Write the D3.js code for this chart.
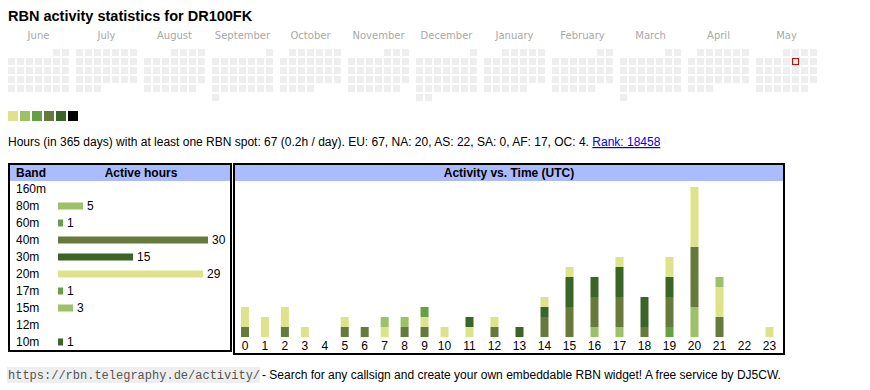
<!DOCTYPE html>
<html>
<head>
<meta charset="utf-8">
<script src="https://cdn.jsdelivr.net/npm/d3@7"></script>
<style>
  body { margin: 0; background: #fff; }
  svg { display: block; }
</style>
</head>
<body>
<div id="chart"></div>
<script>
// data
var callsign = "DR100FK";
var monthNames = ["June", "July", "August", "September", "October", "November",
                  "December", "January", "February", "March", "April", "May"];
var calStart = "2024-06-01", calEnd = "2025-06-01";
var today = "2025-05-09";
var legendColors = ["#dce38b", "#9dc166", "#66a044", "#667b3b", "#3b6527", "#000000"];

var bands      = ["160m", "80m", "60m", "40m", "30m", "20m", "17m", "15m", "12m", "10m"];
var bandHours  = [0, 5, 1, 30, 15, 29, 1, 3, 0, 1];
var bandColors = ["#000000", "#9dc166", "#66a044", "#667b3b", "#3b6527", "#dce38b", "#66a044", "#9dc166", "#dce38b", "#3b6527"];

var hours = d3.range(24);
// hours with a spot per band, per UTC hour 0..23
var act160 = [0,0,0,0,0,0,0,0,0,0,0,0,0,0,0,0,0,0,0,0,0,0,0,0];
var act80  = [0,0,0,0,0,0,0,0,0,0,0,0,0,0,0,0,1,1,0,0,3,0,0,0];
var act60  = [0,0,0,0,0,0,0,0,0,0,0,0,0,0,0,0,0,0,0,1,0,0,0,0];
var act40  = [1,0,1,0,0,1,1,0,1,1,0,0,1,0,2,3,3,3,1,3,6,2,0,0];
var act30  = [0,0,0,0,0,0,0,0,0,0,0,0,0,1,1,3,2,3,3,2,0,0,0,0];
var act20  = [2,2,2,1,0,1,0,1,0,1,1,1,1,0,1,1,0,1,0,2,6,3,0,1];
var act17  = [0,0,0,0,0,0,0,0,0,1,0,0,0,0,0,0,0,0,0,0,0,0,0,0];
var act15  = [0,0,0,0,0,0,0,1,1,0,0,0,0,0,0,0,0,0,0,0,0,1,0,0];
var act12  = [0,0,0,0,0,0,0,0,0,0,0,0,0,0,0,0,0,0,0,0,0,0,0,0];
var act10  = [0,0,0,0,0,0,0,0,0,0,0,1,0,0,0,0,0,0,0,0,0,0,0,0];

var summary = "Hours (in 365 days) with at least one RBN spot: 67 (0.2h / day). EU: 67, NA: 20, AS: 22, SA: 0, AF: 17, OC: 4. ";
var rankText = "Rank: 18458";

var width = 870, height = 390;
var sans = "'Liberation Sans', Arial, sans-serif";

var svg = d3.select("#chart")
  .append("svg")
    .attr("width", width)
    .attr("height", height)
    .style("font-family", sans);

svg.append("rect").attr("width", width).attr("height", height).attr("fill", "#fff");

// title
svg.append("text")
  .attr("x", 8).attr("y", 21)
  .style("font-size", "14.5px")
  .style("font-weight", "bold")
  .text("RBN activity statistics for " + callsign);

// ---- calendar ----
var parse = d3.timeParse("%Y-%m-%d");
var start = parse(calStart);
var days = d3.timeDay.range(start, parse(calEnd));
var monthStep = 68, cell = 7, cellStep = 9, calX = 8, calY = 49;

var monthX = d3.scaleLinear().domain([0, 1]).range([calX, calX + monthStep]);
var weekday = function(d) { return (d.getDay() + 6) % 7; };
var monthIdx = function(d) { return d3.timeMonth.count(start, d); };
var weekRow = function(d) {
  var first = d3.timeMonth.floor(d);
  return Math.floor((d.getDate() - 1 + weekday(first)) / 7);
};

svg.append("g")
  .selectAll("text")
  .data(monthNames)
  .join("text")
    .attr("x", function(d, i) { return monthX(i) + (7 * cellStep - 2) / 2; })
    .attr("y", 39)
    .attr("text-anchor", "middle")
    .style("font-family", "'DejaVu Sans', Verdana, sans-serif")
    .style("font-size", "10px")
    .attr("fill", "#a8a8a8")
    .text(function(d) { return d; });

var fmt = d3.timeFormat("%Y-%m-%d");
var cal = svg.append("g");
cal.selectAll("rect")
  .data(days)
  .join("rect")
    .attr("x", function(d) { return monthX(monthIdx(d)) + weekday(d) * cellStep; })
    .attr("y", function(d) { return calY + weekRow(d) * cellStep; })
    .attr("width", cell)
    .attr("height", cell)
    .attr("fill", "#eeeeee");

// today marker, stroke kept inside the cell
cal.selectAll("rect")
  .filter(function(d) { return fmt(d) == today; })
    .attr("x", function(d) { return monthX(monthIdx(d)) + weekday(d) * cellStep + 0.5; })
    .attr("y", function(d) { return calY + weekRow(d) * cellStep + 0.5; })
    .attr("width", cell - 1).attr("height", cell - 1)
    .attr("stroke", "#e00000");

// legend
svg.append("g")
  .selectAll("rect")
  .data(legendColors)
  .join("rect")
    .attr("x", function(d, i) { return 8 + i * 12; })
    .attr("y", 111)
    .attr("width", 10)
    .attr("height", 10)
    .attr("fill", function(d) { return d; });

// summary line
var sum = svg.append("text")
  .attr("x", 8).attr("y", 146)
  .style("font-size", "12px");
sum.append("tspan").text(summary);
sum.append("tspan").attr("fill", "#0000ee").attr("text-decoration", "underline").text(rankText);

// ---- band table ----
var lt = {x: 9, y: 164, w: 222, h: 187};
svg.append("rect")
  .attr("x", lt.x).attr("y", lt.y + 1).attr("width", lt.w).attr("height", 16)
  .attr("fill", "#aabbff");
svg.append("rect")
  .attr("x", lt.x).attr("y", lt.y).attr("width", lt.w).attr("height", lt.h)
  .attr("fill", "none").attr("stroke", "#000").attr("stroke-width", 2);
svg.append("text").attr("x", 16).attr("y", 177)
  .style("font-size", "12px").style("font-weight", "bold").text("Band");
svg.append("text").attr("x", 141).attr("y", 177).attr("text-anchor", "middle")
  .style("font-size", "12px").style("font-weight", "bold").text("Active hours");

var rowY = d3.scalePoint().domain(bands).range([189, 342]);
var hx = d3.scaleLinear().domain([0, 30]).range([58, 208]);

var rows = svg.append("g")
  .selectAll("g")
  .data(bands)
  .join("g")
    .attr("transform", function(d) { return "translate(0," + rowY(d) + ")"; });

rows.append("text")
  .attr("x", 16).attr("dy", "0.35em")
  .style("font-size", "12px")
  .text(function(d) { return d; });

rows.filter(function(d, i) { return bandHours[i] > 0; })
  .append("rect")
    .attr("x", hx(0))
    .attr("y", -3.5)
    .attr("height", 7)
    .attr("width", function(d) { return hx(bandHours[bands.indexOf(d)]) - hx(0); })
    .attr("fill", function(d) { return bandColors[bands.indexOf(d)]; });

rows.filter(function(d, i) { return bandHours[i] > 0; })
  .append("text")
    .attr("x", function(d) { return hx(bandHours[bands.indexOf(d)]) + 4; })
    .attr("dy", "0.35em")
    .style("font-size", "12px")
    .text(function(d) { return bandHours[bands.indexOf(d)]; });

// ---- activity vs time ----
var rt = {x: 234, y: 164, w: 550, h: 190};
svg.append("rect")
  .attr("x", rt.x).attr("y", rt.y + 1).attr("width", rt.w).attr("height", 16)
  .attr("fill", "#aabbff");
svg.append("rect")
  .attr("x", rt.x).attr("y", rt.y).attr("width", rt.w).attr("height", rt.h)
  .attr("fill", "none").attr("stroke", "#000").attr("stroke-width", 2);
svg.append("text").attr("x", rt.x + rt.w / 2).attr("y", 177).attr("text-anchor", "middle")
  .style("font-size", "12px").style("font-weight", "bold").text("Activity vs. Time (UTC)");

var actByBand = [act160, act80, act60, act40, act30, act20, act17, act15, act12, act10];
var table = hours.map(function(h) {
  var row = {hour: h};
  bands.forEach(function(b, i) { row[b] = actByBand[i][h]; });
  return row;
});
var stack = d3.stack().keys(bands)(table);

// one-digit columns are narrower than two-digit ones
var x = d3.scaleLinear().domain([0, 10, 23]).range([245, 444.5, 769.5]);
var y = d3.scaleLinear().domain([0, 15]).range([337, 187]);

svg.append("g")
  .selectAll("g")
  .data(stack)
  .join("g")
    .attr("fill", function(d, i) { return bandColors[i]; })
  .selectAll("rect")
  .data(function(d) { return d.filter(function(p) { return p[1] > p[0]; }); })
  .join("rect")
    .attr("x", function(d) { return x(d.data.hour) - 4; })
    .attr("y", function(d) { return y(d[1]); })
    .attr("width", 8)
    .attr("height", function(d) { return y(d[0]) - y(d[1]); });

svg.append("g")
  .selectAll("text")
  .data(hours)
  .join("text")
    .attr("x", function(d) { return x(d); })
    .attr("y", 350)
    .attr("text-anchor", "middle")
    .style("font-size", "12px")
    .text(function(d) { return d; });

// ---- footer ----
svg.append("rect")
  .attr("x", 7).attr("y", 367).attr("width", 253).attr("height", 16)
  .attr("fill", "#eeeeee");
svg.append("text")
  .attr("x", 8).attr("y", 379)
  .style("font-family", "'Liberation Mono', 'DejaVu Sans Mono', monospace")
  .style("font-size", "12px")
  .attr("fill", "#555")
  .text("https://rbn.telegraphy.de/activity/");
svg.append("text")
  .attr("x", 262).attr("y", 379)
  .style("font-size", "12px")
  .text("- Search for any callsign and create your own embeddable RBN widget! A free service by DJ5CW.");
</script>
</body>
</html>
